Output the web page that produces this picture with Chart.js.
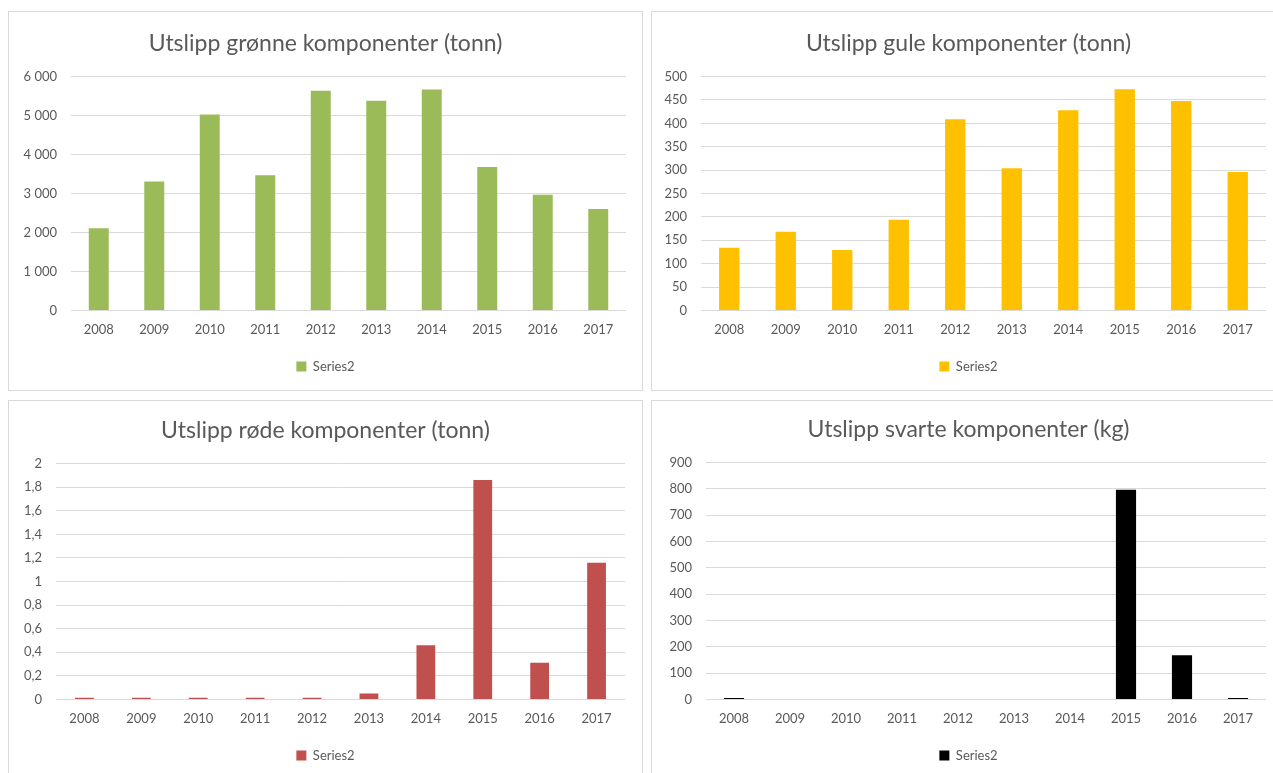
<!DOCTYPE html>
<html lang="no">
<head>
<meta charset="utf-8">
<title>Utslipp komponenter</title>
<script src="https://cdn.jsdelivr.net/npm/chart.js@4/dist/chart.umd.min.js"></script>
<style>
  html, body { margin: 0; padding: 0; background: #fff; overflow: hidden; }
  body { width: 1273px; height: 773px; position: relative; }
  .panel { position: absolute; width: 635px; height: 380px; border: 1px solid #d9d9d9; box-sizing: border-box; background: #fff; }
  .panel canvas { display: block; }
</style>
</head>
<body>
<div class="panel" style="left:8px; top:11px;"><canvas id="greenChart"></canvas></div>
<div class="panel" style="left:651px; top:11px;"><canvas id="yellowChart"></canvas></div>
<div class="panel" style="left:8px; top:400px;"><canvas id="redChart"></canvas></div>
<div class="panel" style="left:651px; top:400px;"><canvas id="blackChart"></canvas></div>

<script>
// categories
const years = ["2008", "2009", "2010", "2011", "2012", "2013", "2014", "2015", "2016", "2017"];

// series values
const greenTonn = [2110, 3310, 5030, 3470, 5640, 5380, 5670, 3680, 2970, 2600];
const yellowTonn = [134, 168, 129, 194, 409, 304, 428, 473, 448, 296];
const redTonn = [0.015, 0.015, 0.015, 0.015, 0.015, 0.05, 0.46, 1.86, 0.31, 1.16];
const blackKg = [5, 0, 0, 0, 0, 0, 0, 797, 168, 5];

// axis ranges
const greenAxis = { max: 6000, step: 1000 };
const yellowAxis = { max: 500, step: 50 };
const redAxis = { max: 2, step: 0.2 };
const blackAxis = { max: 900, step: 100 };

const textColor = "#595959";
const gridColor = "#d9d9d9";
const fontFamily = "Lato, 'Open Sans', sans-serif";

const spaced = (v) => String(Math.round(v)).replace(/\B(?=(\d{3})+(?!\d))/g, " ");
const commaDec = (v) => String(Math.round(v * 10) / 10).replace(".", ",");

function makeChart(id, opts) {
  const el = document.getElementById(id);
  el.width = 633;
  el.height = 378;
  return new Chart(el, {
    type: "bar",
    data: {
      labels: years,
      datasets: [
        {
          label: "Series2",
          data: opts.values,
          backgroundColor: opts.color,
          barPercentage: opts.barPct,
          categoryPercentage: 1,
        },
      ],
    },
    options: {
      responsive: false,
      animation: false,
      layout: { padding: { left: 0, right: 0, top: 1, bottom: 7 } },
      plugins: {
        title: {
          display: true,
          text: opts.title,
          color: textColor,
          font: { family: fontFamily, size: 23, weight: "normal" },
          padding: { top: opts.titleTop, bottom: 19 },
        },
        legend: {
          position: "bottom",
          labels: {
            color: textColor,
            boxWidth: 10,
            boxHeight: 10,
            padding: 10,
            font: { family: fontFamily, size: 13 },
          },
        },
        tooltip: { enabled: false },
      },
      scales: {
        x: {
          grid: { display: false, drawTicks: false },
          border: { display: false },
          ticks: {
            color: textColor,
            padding: 12,
            font: { family: fontFamily, size: 13 },
          },
        },
        y: {
          min: 0,
          max: opts.axis.max,
          grid: { color: gridColor, drawTicks: false },
          border: { display: false },
          afterFit(scale) {
            scale.width = opts.left;
          },
          ticks: {
            stepSize: opts.axis.step,
            color: textColor,
            padding: 14,
            font: { family: fontFamily, size: 13 },
            callback: opts.fmt,
          },
        },
        // empty right axis: only keeps the right margin, title stays centred
        gap: {
          position: "right",
          grid: { display: false, drawTicks: false },
          border: { display: false },
          ticks: { display: false },
          afterFit(scale) {
            scale.width = opts.right;
          },
        },
      },
    },
  });
}

makeChart("greenChart", {
  title: "Utslipp grønne komponenter (tonn)",
  values: greenTonn,
  color: "#9bbb59",
  axis: greenAxis,
  fmt: spaced,
  barPct: 0.36,
  left: 62,
  right: 16,
  titleTop: 17,
});

makeChart("yellowChart", {
  title: "Utslipp gule komponenter (tonn)",
  values: yellowTonn,
  color: "#ffc000",
  axis: yellowAxis,
  fmt: spaced,
  barPct: 0.36,
  left: 49,
  right: 19,
  titleTop: 17,
});

makeChart("redChart", {
  title: "Utslipp røde komponenter (tonn)",
  values: redTonn,
  color: "#c0504d",
  axis: redAxis,
  fmt: commaDec,
  barPct: 0.33,
  left: 47,
  right: 17,
  titleTop: 15,
});

makeChart("blackChart", {
  title: "Utslipp svarte komponenter (kg)",
  values: blackKg,
  color: "#000000",
  axis: blackAxis,
  fmt: spaced,
  barPct: 0.36,
  left: 54,
  right: 19,
  titleTop: 14,
});
</script>
</body>
</html>
